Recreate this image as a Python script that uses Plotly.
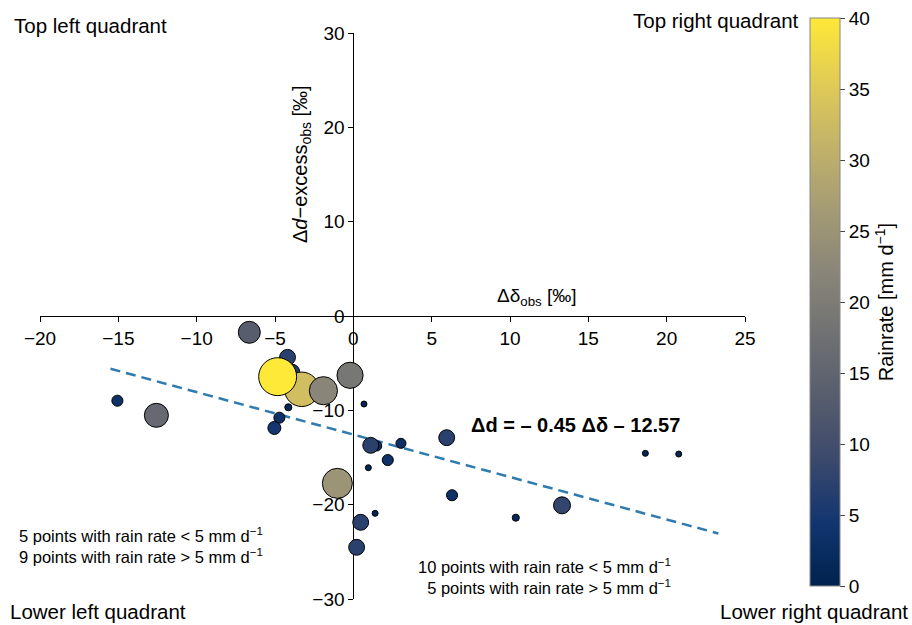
import numpy as np
import plotly.graph_objects as go

# ---- data ----
delta_obs = [-3.9, -0.4, -4.2, -3.29, -4.83, -1.91, -0.21, -6.64, -4.15, -4.72, -5.04, -15.06, -12.57, -1.02,
             0.68, 1.49, 1.11, 2.2, 0.96, 1.39, 0.47, 0.21, 3.04, 5.96, 6.3, 10.37, 13.32, 18.64, 20.77]
dexcess_obs = [-5.9, -5.5, -4.38, -7.77, -6.43, -7.92, -6.29, -1.73, -9.68, -10.78, -11.87, -8.98, -10.53, -17.74,
               -9.33, -13.78, -13.71, -15.27, -16.08, -20.92, -21.87, -24.52, -13.5, -12.9, -19.0, -21.38, -20.07, -14.56, -14.63]
rainrate = [6, 2, 7, 33, 40, 22, 19, 13.4, 1.4, 3.4, 4.7, 3.4, 16, 25,
            1, 2.8, 7, 3.4, 1, 1, 7, 7, 2.8, 7, 3.4, 1.4, 8, 1, 1]

slope = -0.45
intercept = -12.57
fit_x = [-15.5, 23.3]

x_ticks = [-20, -15, -10, -5, 0, 5, 10, 15, 20, 25]
y_ticks = [-30, -20, -10, 0, 10, 20, 30]
cbar_ticks = [0, 5, 10, 15, 20, 25, 30, 35, 40]

FONT = "Liberation Sans, Arial, sans-serif"

fig = go.Figure()

fit_y = [slope * v + intercept for v in fit_x]
fig.add_trace(go.Scatter(x=fit_x, y=fit_y, mode="lines",
                         line=dict(color="#2f7aae", width=2.5, dash="10px,6px"),
                         showlegend=False, hoverinfo="skip"))

sizes = [6 * np.sqrt(r) for r in rainrate]
fig.add_trace(go.Scatter(
    x=delta_obs, y=dexcess_obs, mode="markers", showlegend=False,
    marker=dict(size=sizes, sizemode="diameter", color=rainrate, cmin=0, cmax=40,
                colorscale="Cividis", opacity=1,
                line=dict(color="black", width=1),
                colorbar=dict(
                    x=(810 - 40) / 705, xanchor="left", xpad=0,
                    y=(599 - 586) / 566, yanchor="bottom", ypad=0,
                    lenmode="pixels", len=568, thickness=30,
                    outlinewidth=1, outlinecolor="#888888",
                    tickvals=cbar_ticks, ticks="outside", ticklen=5, tickcolor="#444",
                    tickfont=dict(family=FONT, size=19, color="black"),
                    title=dict(text="Rainrate [mm d<sup>−1</sup>]", side="right",
                               font=dict(family=FONT, size=20, color="black")),
                ))))

fig.update_layout(
    width=912, height=625,
    margin=dict(l=40, r=167, t=33, b=26),
    plot_bgcolor="white", paper_bgcolor="white",
    font=dict(family=FONT, size=19, color="black"),
    xaxis=dict(range=[-20, 25], tickvals=x_ticks, showgrid=False, zeroline=False,
               showline=True, linecolor="black", linewidth=1, ticks="outside", ticklen=5,
               tickcolor="black", anchor="free", position=0.5, layer="below traces",
               tickfont=dict(size=19)),
    yaxis=dict(range=[-30, 30], tickvals=y_ticks, showgrid=False, zeroline=False,
               showline=True, linecolor="black", linewidth=1, ticks="outside", ticklen=5,
               tickcolor="black", anchor="free", position=20 / 45, layer="below traces",
               tickfont=dict(size=19)),
)

def px2paper(px, py):
    return (px - 40) / 705, (599 - py) / 566

anns = []
def add(text, px, py, xanchor="center", size=19, align="left", textangle=0):
    xp, yp = px2paper(px, py)
    anns.append(dict(text=text, x=xp, y=yp, xref="paper", yref="paper", xanchor=xanchor,
                     yanchor="middle", showarrow=False, align=align, textangle=textangle,
                     font=dict(family=FONT, size=size, color="black")))

add("Top left quadrant", 12, 26, xanchor="left", size=20.5)
add("Top right quadrant", 801, 20, xanchor="right", size=20.5)
add("Lower left quadrant", 8, 611, xanchor="left", size=20.5)
add("Lower right quadrant", 910, 611, xanchor="right", size=20.5)
add("5 points with rain rate &lt; 5 mm d<sup>−1</sup><br>9 points with rain rate &gt; 5 mm d<sup>−1</sup>",
    17, 545, xanchor="left", size=16.5, align="left")
add("10 points with rain rate &lt; 5 mm d<sup>−1</sup><br>5 points with rain rate &gt; 5 mm d<sup>−1</sup>",
    673, 576, xanchor="right", size=16.5, align="right")
add("<b>Δd = – 0.45 Δδ – 12.57</b>", 575, 425, size=20)
add("Δδ<sub>obs</sub> [‰]", 537, 297, size=19)
add("Δ<i>d</i>−excess<sub>obs</sub> [‰]", 301, 164, size=20, textangle=-90)

fig.update_layout(annotations=anns)
fig.write_html("out.html")
